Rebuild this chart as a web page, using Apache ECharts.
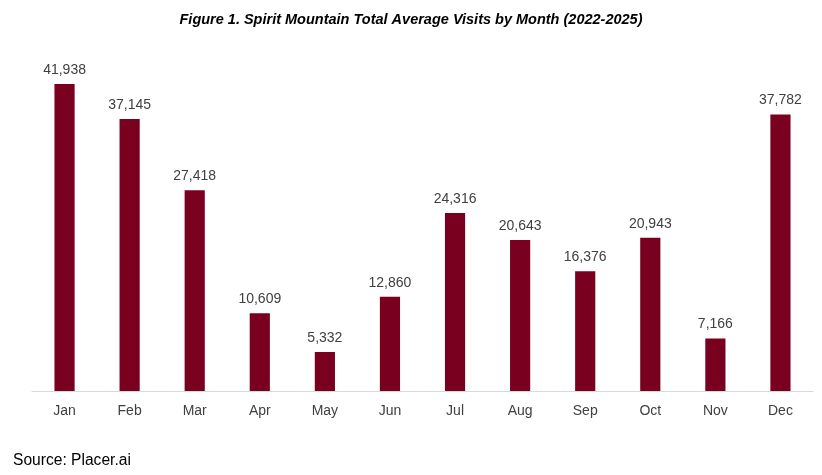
<!DOCTYPE html>
<html>
<head>
<meta charset="utf-8">
<script src="https://cdn.jsdelivr.net/npm/echarts@6/dist/echarts.min.js"></script>
<style>
  html, body { margin: 0; padding: 0; background: #fff; }
  #chart { width: 822px; height: 475px; }
</style>
</head>
<body>
<div id="chart"></div>
<script>
const months = ['Jan', 'Feb', 'Mar', 'Apr', 'May', 'Jun', 'Jul', 'Aug', 'Sep', 'Oct', 'Nov', 'Dec'];
const avgVisits = [41938, 37145, 27418, 10609, 5332, 12860, 24316, 20643, 16376, 20943, 7166, 37782];

const sans = '"Liberation Sans", Arial, sans-serif';

const chart = echarts.init(document.getElementById('chart'), null, { renderer: 'canvas' });

chart.setOption({
  animation: false,
  title: {
    text: 'Figure 1. Spirit Mountain Total Average Visits by Month (2022-2025)',
    left: 'center',
    top: 7,
    textStyle: {
      fontFamily: sans,
      fontSize: 14.5,
      fontWeight: 'bold',
      fontStyle: 'italic',
      color: '#000'
    }
  },
  graphic: [{
    type: 'text',
    left: 13,
    top: 453,
    style: {
      text: 'Source: Placer.ai',
      font: '15.6px ' + sans,
      fill: '#000'
    }
  }],
  grid: { left: 32, right: 9, top: 25, bottom: 84 },
  xAxis: {
    type: 'category',
    data: months,
    axisLine: { lineStyle: { color: '#d9d9d9', width: 1 } },
    axisTick: { show: false },
    axisLabel: { color: '#404040', fontFamily: sans, fontSize: 14, margin: 13 }
  },
  yAxis: {
    type: 'value',
    min: 0,
    max: 50000,
    show: false,
    splitLine: { show: false }
  },
  series: [{
    type: 'bar',
    data: avgVisits,
    barWidth: '31%',
    itemStyle: { color: '#7a0020' },
    label: {
      show: true,
      position: 'top',
      distance: 7,
      color: '#404040',
      fontFamily: sans,
      fontSize: 14,
      formatter: p => p.value.toLocaleString('en-US')
    }
  }]
});
</script>
</body>
</html>
